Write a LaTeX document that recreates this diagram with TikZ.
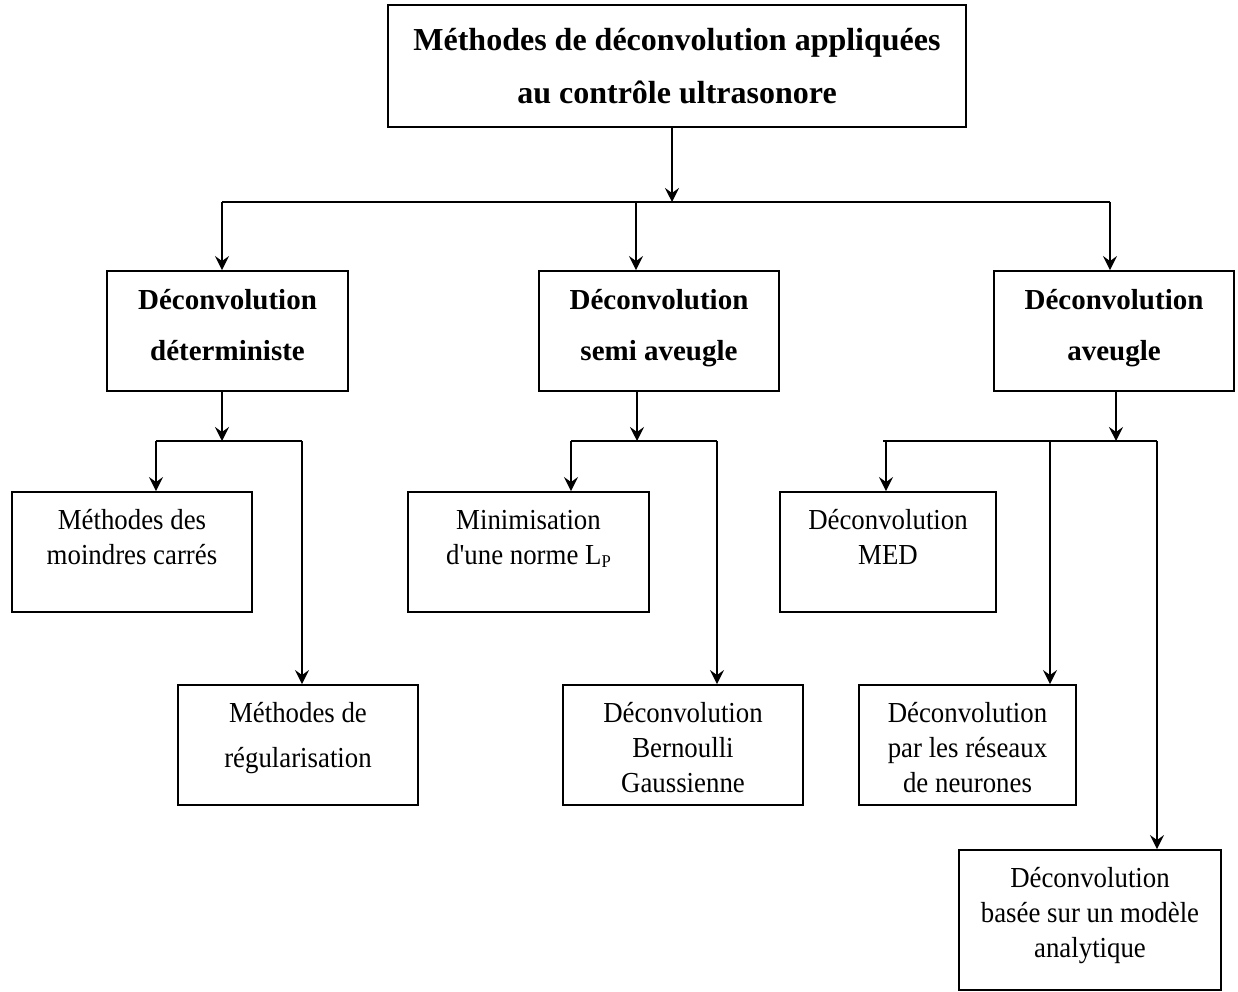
\documentclass[tikz,border=0pt]{standalone}
\usepackage{fontspec}
\setmainfont{Liberation Serif}
\newfontfamily\condserif{Liberation Serif}[FakeStretch=0.925,Ligatures=TeXOff]
\usetikzlibrary{arrows.meta}
\begin{document}
\begin{tikzpicture}[x=1pt,y=-1pt,
  box/.style={draw,line width=1.9pt,minimum width=#1,inner sep=0pt},
  txt/.style={align=center,inner sep=0pt,font=\condserif\fontsize{29}{35}\selectfont},
  btxt/.style={align=center,inner sep=0pt,font=\fontsize{29}{51}\selectfont\bfseries},
  ln/.style={line width=1.7pt},
  arr/.style={line width=1.7pt,-{Stealth[length=14pt,width=14pt,inset=5pt]}}]
\useasboundingbox (0,0) rectangle (1238,992);
% boxes
\node[box=578pt,minimum height=122pt] (top) at (677,66) {};
\node[align=center,inner sep=0pt,font=\fontsize{32}{53}\selectfont\bfseries] (ttop) at (677,66) {Méthodes de déconvolution appliquées\\au contrôle ultrasonore};
\node[box=241pt,minimum height=120pt] (b1) at (227.5,331) {};
\node[btxt] (t1) at (227.5,325) {Déconvolution\\déterministe};
\node[box=240pt,minimum height=120pt] (b2) at (659,331) {};
\node[btxt] (t2) at (659,328.5) {Déconvolution\\semi aveugle};
\node[box=240pt,minimum height=120pt] (b3) at (1114,331) {};
\node[btxt] (t3) at (1114,328.5) {Déconvolution\\aveugle};
\node[box=240pt,minimum height=120pt] (bA) at (132,552) {};
\node[txt] (tA) at (132,537) {Méthodes des\\moindres carrés};
\node[box=240pt,minimum height=120pt] (bB) at (298,745) {};
\node[align=center,inner sep=0pt,font=\condserif\fontsize{29}{45}\selectfont] (tB) at (298,738) {Méthodes de\\régularisation};
\node[box=241pt,minimum height=120pt] (bC) at (528.5,552) {};
\node[txt] (tC) at (528.5,539) {Minimisation\\d'une norme L\raisebox{-0.12em}{\fontsize{18}{18}\selectfont P}};
\node[box=240pt,minimum height=120pt] (bD) at (683,745) {};
\node[txt] (tD) at (683,748) {Déconvolution\\Bernoulli\\Gaussienne};
\node[box=216pt,minimum height=120pt] (bE) at (888,552) {};
\node[txt] (tE) at (888,537) {Déconvolution\\MED};
\node[box=217pt,minimum height=120pt] (bF) at (967.5,745) {};
\node[txt] (tF) at (967.5,748) {Déconvolution\\par les réseaux\\de neurones};
\node[box=262pt,minimum height=140pt] (bG) at (1090,920) {};
\node[txt] (tG) at (1090,916) {Déconvolution\\basée sur un modèle\\analytique};
% junctions
\coordinate (j0) at (672,202);
\coordinate (jL) at (222,202);
\coordinate (jM) at (636,202);
\coordinate (jR) at (1110,202);
\coordinate (j1) at (222,441);
\coordinate (j1a) at (156,441);
\coordinate (j1b) at (302,441);
\coordinate (j2) at (637,441);
\coordinate (j2a) at (571,441);
\coordinate (j2b) at (717,441);
\coordinate (j3) at (1116,441);
\coordinate (j3a) at (883,441);
\coordinate (j3e) at (886,441);
\coordinate (j3f) at (1050,441);
\coordinate (j3b) at (1157,441);
% connectors
\draw[arr] (top.south -| j0) -- (j0);
\draw[ln] (jL) -- (jR);
\draw[arr] (jL) -- (jL |- b1.north);
\draw[arr] (jM) -- (jM |- b2.north);
\draw[arr] (jR) -- (jR |- b3.north);
\draw[arr] (b1.south -| j1) -- (j1);
\draw[ln] (j1a) -- (j1b);
\draw[arr] (j1a) -- (j1a |- bA.north);
\draw[arr] (j1b) -- (j1b |- bB.north);
\draw[arr] (b2.south -| j2) -- (j2);
\draw[ln] (j2a) -- (j2b);
\draw[arr] (j2a) -- (j2a |- bC.north);
\draw[arr] (j2b) -- (j2b |- bD.north);
\draw[arr] (b3.south -| j3) -- (j3);
\draw[ln] (j3a) -- (j3b);
\draw[arr] (j3e) -- (j3e |- bE.north);
\draw[arr] (j3f) -- (j3f |- bF.north);
\draw[arr] (j3b) -- (j3b |- bG.north);
\end{tikzpicture}
\end{document}
